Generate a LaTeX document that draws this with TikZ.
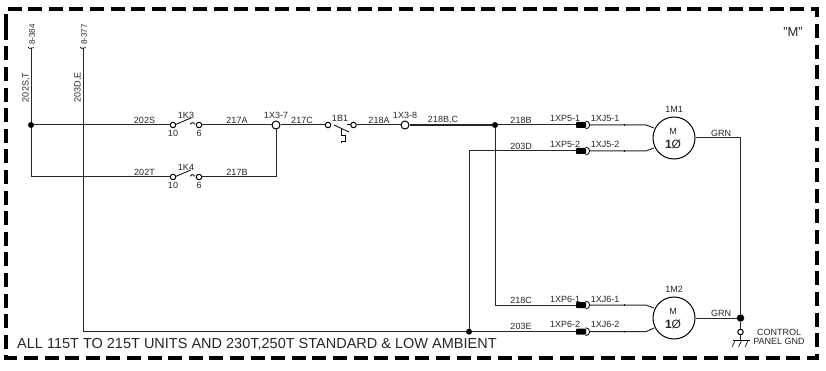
\documentclass[tikz,border=0pt]{standalone}
\usepackage{fontspec}
\setmainfont{Liberation Sans}
\begin{document}
\begin{tikzpicture}[x=1pt,y=-1pt,
  wire/.style={draw=black!85,line width=1pt},
  lbl/.style={inner sep=0pt,font=\fontsize{9}{9}\selectfont,text=black!85},
  contact/.style={circle,draw=black,line width=1pt,fill=white,minimum size=5.5pt,inner sep=0pt},
  terminal/.style={circle,draw=black,line width=1pt,fill=white,minimum size=8pt,inner sep=0pt},
  dotn/.style={circle,fill=black,minimum size=6pt,inner sep=0pt},
  motor/.style={circle,draw=black,line width=1pt,fill=white,minimum size=42pt,inner sep=0pt},
  plug/.style={rectangle,fill=black,rounded corners=0.8pt,minimum width=10pt,minimum height=6pt,inner sep=0pt},
  blade/.style={draw=black,line width=0.8pt}]
\useasboundingbox (0,0) rectangle (826,371);
% border
\draw[line width=4pt,line join=miter,dash pattern=on 14pt off 6.6pt] (5.5,28) -- (5.5,9.5) -- (817,9.5) -- (817,357.5) -- (5.5,357.5) -- cycle;
% coordinates and named points
\coordinate (t1) at (31,48); \coordinate (t2) at (83,48);
\node[dotn] (j1) at (31,125) {};
\node[dotn] (j2) at (495,125) {};
\node[dotn] (j3) at (469,331.7) {};
\node[dotn,minimum size=7.5pt] (j4) at (740.5,318) {};
\coordinate (b1) at (31,177); \coordinate (b2) at (83,331.7);
\coordinate (c1) at (469,151); \coordinate (c2) at (495,305);
\node[contact] (k3a) at (173,125) {}; \node[contact] (k3b) at (199,125) {};
\node[contact] (k4a) at (173,177) {}; \node[contact] (k4b) at (199,177) {};
\node[contact] (b1a) at (328,125) {}; \node[contact] (b1b) at (353.5,125) {};
\node[terminal] (x7) at (276,125) {};
\node[terminal] (x8) at (405,125) {};
\node[motor] (m1) at (674,138) {};
\node[motor] (m2) at (674,318) {};
\coordinate (x7b) at (276,177);
% plugs
\node[plug] (p51) at (581,125) {}; \node[plug] (p52) at (581,151) {};
\node[plug] (p61) at (581,305) {}; \node[plug] (p62) at (581,331.7) {};
% wires
\draw[wire] (t1) -- (j1) -- (k3a);
\draw[wire] (j1) -- (b1) -- (k4a);
\draw[wire] (t2) -- (b2) -- (j3);
\draw[wire] (k3b) -- (x7);
\draw[wire] (k4b) -- (x7b) -- (x7);
\draw[wire] (x7) -- (b1a);
\draw[wire] (b1b) -- (x8);
\draw[wire,line width=1.2pt] (x8) -- (j2);
\draw[wire] (j2) -- (p51);
\draw[wire] (j3) -- (c1) -- (p52);
\draw[wire] (j2) -- (c2) -- (p61);
\draw[wire] (j3) -- (p62);
\foreach \y/\d in {125/128,151/148,305/308,331.7/328}{
  \draw[wire] (590,\y) -- (646,\y) -- (654,\d);
  \draw[line width=0.8pt] (585.5,\y-4) .. controls (591,\y-4) and (591,\y+4) .. (585.5,\y+4);
  \fill[black] (624.5,\y) circle (0.8pt);
}
\draw[wire] (m1.east) -- (740.5,138) -- (j4);
\draw[wire] (m2.east) -- (j4);
\node[contact] (gc) at (740.5,332) {};
\coordinate (gt) at (740.5,340.7);
\draw[wire] (j4) -- (gc) -- (gt);
\draw[blade] (733,340.7) -- (750,340.7);
\foreach \x in {735,741.5,748}{\draw[line width=0.6pt] (\x,340.7) -- (\x-3,347);}
% wire-end ticks
\draw[line width=0.6pt] (28,47) .. controls (30,49) and (30,49) .. (31,48) .. controls (32,47) and (33,49) .. (34,47.5);
\draw[line width=0.6pt] (80,47) .. controls (82,49) and (82,49) .. (83,48) .. controls (84,47) and (85,49) .. (86,47.5);
% switch blades
\draw[blade] (175.5,124.5) -- (191,118);
\draw[blade] (190,124.3) .. controls (191,122) and (193,122) .. (195,124.3);
\draw[blade] (175.5,176.5) -- (191,170);
\draw[blade] (190,176.3) .. controls (191,174) and (193,174) .. (195,176.3);
% thermal switch
\draw[blade] (334,125) -- (349,132);
\draw[blade] (347,124.5) -- (351,124.5);
\draw[blade] (341,128.5) -- (341,135.5) -- (345.5,135.5) -- (345.5,141) -- (341,141) -- (341,143);
% labels
\node[lbl,rotate=90,font=\fontsize{8}{9}\selectfont] (l1) at (32,34.5) {8-384};
\node[lbl,rotate=90,font=\fontsize{8}{9}\selectfont] (l2) at (84,34.5) {8-377};
\node[lbl,rotate=90] (l3) at (26,87.5) {202S,T};
\node[lbl,rotate=90] (l4) at (78,87.5) {203D,E};
\foreach \x/\y/\t in {144.5/120/202S,186/115/1K3,173/133/10,199/133/6,237/120/217A,
  144.5/172/202T,186/167/1K4,173/185/10,199/185/6,237/172/217B,
  276/115/1X3-7,302/120/217C,340/118/1B1,379/120/218A,405/115/1X3-8,443/120/{218B,C},
  521/120/218B,521/146/203D,521/300/218C,521/326/203E,
  565/118/1XP5-1,605/118/1XJ5-1,565/144/1XP5-2,605/144/1XJ5-2,
  565/299/1XP6-1,605/299/1XJ6-1,565/324/1XP6-2,605/324/1XJ6-2,
  674/109/1M1,674/289/1M2,673/131/M,673/311/M,721/133/GRN,721/313/GRN,
  779/332/CONTROL,779/341/PANEL GND}
  {\node[lbl] at (\x,\y) {\t};}
\node[lbl,font=\fontsize{12}{12}\selectfont] (m1p) at (673,144) {\textbf{1}Ø};
\node[lbl,font=\fontsize{12}{12}\selectfont] (m2p) at (673,324) {\textbf{1}Ø};
\node[lbl,font=\fontsize{13}{13}\selectfont] (mq) at (793,32) {"M"};
\node[lbl,anchor=west,font=\fontsize{14.5}{15}\selectfont] (note) at (17,344) {ALL 115T TO 215T UNITS AND 230T,250T STANDARD \& LOW AMBIENT};
\end{tikzpicture}
\end{document}
